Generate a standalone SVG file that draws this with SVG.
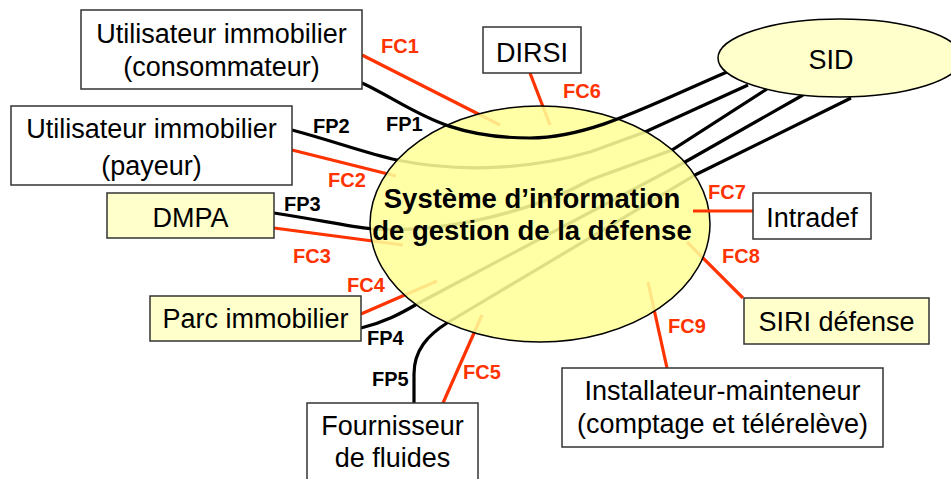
<svg xmlns="http://www.w3.org/2000/svg" width="951" height="479" viewBox="0 0 951 479">
<defs>
<style>
.box{fill:#FFFFFF;stroke:#333333;stroke-width:1.5}
.ybox{fill:#FFFFCC;stroke:#333333;stroke-width:1.5}
.t{font-family:"Liberation Sans",Arial,sans-serif;font-size:27px;fill:#000000;text-anchor:middle}
.tb{font-family:"Liberation Sans",Arial,sans-serif;font-size:27.5px;font-weight:bold;fill:#000000;text-anchor:middle}
.fp{font-family:"Liberation Sans",Arial,sans-serif;font-size:20px;font-weight:bold;fill:#000000}
.fc{font-family:"Liberation Sans",Arial,sans-serif;font-size:20px;font-weight:bold;fill:#FF3300}
.k{fill:none;stroke:#000000;stroke-width:3.2}
.r{fill:none;stroke:#FF3300;stroke-width:3.2}
</style>
</defs>
<rect width="951" height="479" fill="#FFFFFF"/>
<g id="connectors">
<path class="k" d="M292,130 C340,143 365,153 397,160 C450,171 520,172 590,152 L645,132 L748,85"/>
<path class="k" d="M274,213 C320,220 345,226 372,229 C450,234 540,208 590,180 L672,150 L767,89"/>
<path class="k" d="M361,328 C385,322 400,314 417,304 L685,162 L803,95"/>
<path class="k" d="M414,403 L414,374 C414,350 428,335 447,323 L697,174 L851,98"/>
<path class="r" d="M362,55 L500,125"/>
<path class="r" d="M530,73 L550,125"/>
<path class="r" d="M292,150 L396,176"/>
<path class="r" d="M274,228 L403,245"/>
<path class="r" d="M361,314 L437,281"/>
<path class="r" d="M443,403 L482,315"/>
<path class="r" d="M743,298 L687,242"/>
<path class="r" d="M667,368 L648,282"/>
</g>
<g id="node-sigd">
<ellipse cx="540" cy="224" rx="170" ry="118" fill="#FFFF99" fill-opacity="0.87" stroke="#000000" stroke-width="1.5"/>
<text class="tb" x="532" y="208">Système d’information</text>
<text class="tb" x="532" y="240">de gestion de la défense</text>
</g>
<g id="connectors-front">
<path class="k" d="M362,83 C410,105 440,138 530,138 C590,138 650,105 727,72"/>
<path class="r" d="M753,211 L693,211"/>
</g>
<g id="labels">
<text class="fc" x="381" y="53">FC1</text>
<text class="fc" x="563" y="98">FC6</text>
<text class="fp" x="386" y="131">FP1</text>
<text class="fp" x="313" y="133">FP2</text>
<text class="fc" x="328" y="187">FC2</text>
<text class="fp" x="284" y="211">FP3</text>
<text class="fc" x="293" y="263">FC3</text>
<text class="fc" x="347" y="292">FC4</text>
<text class="fp" x="367" y="345">FP4</text>
<text class="fp" x="372" y="386">FP5</text>
<text class="fc" x="463" y="379">FC5</text>
<text class="fc" x="708" y="199">FC7</text>
<text class="fc" x="722" y="263">FC8</text>
<text class="fc" x="668" y="333">FC9</text>
</g>
<g id="node-consommateur">
<rect class="box" x="81" y="10" width="281" height="79"/>
<text class="t" x="221.5" y="43">Utilisateur immobilier</text>
<text class="t" x="221.5" y="76">(consommateur)</text>
</g>
<g id="node-payeur">
<rect class="box" x="11" y="106" width="281" height="79"/>
<text class="t" x="151.5" y="138">Utilisateur immobilier</text>
<text class="t" x="151.5" y="175">(payeur)</text>
</g>
<g id="node-dmpa">
<rect class="ybox" x="107" y="193" width="167" height="45"/>
<text class="t" x="190.5" y="227">DMPA</text>
</g>
<g id="node-dirsi">
<rect class="box" x="483" y="27" width="98" height="46"/>
<text class="t" x="532" y="62">DIRSI</text>
</g>
<g id="node-sid">
<ellipse cx="840" cy="58" rx="122" ry="39" fill="#FFFFCC" stroke="#000000" stroke-width="1.5"/>
<text class="t" x="831" y="69">SID</text>
</g>
<g id="node-intradef">
<rect class="box" x="753" y="193" width="118" height="46"/>
<text class="t" x="812" y="227">Intradef</text>
</g>
<g id="node-siri">
<rect class="ybox" x="744" y="298" width="185" height="46"/>
<text class="t" x="836.5" y="331">SIRI défense</text>
</g>
<g id="node-installateur">
<rect class="box" x="562" y="368" width="321" height="79"/>
<text class="t" x="722.5" y="400">Installateur-mainteneur</text>
<text class="t" x="722.5" y="433">(comptage et télérelève)</text>
</g>
<g id="node-parc">
<rect class="ybox" x="150" y="296" width="211" height="45"/>
<text class="t" x="255.5" y="328">Parc immobilier</text>
</g>
<g id="node-fournisseur">
<rect class="box" x="307" y="403" width="171" height="90"/>
<text class="t" x="392.5" y="435">Fournisseur</text>
<text class="t" x="392.5" y="467">de fluides</text>
</g>
</svg>
